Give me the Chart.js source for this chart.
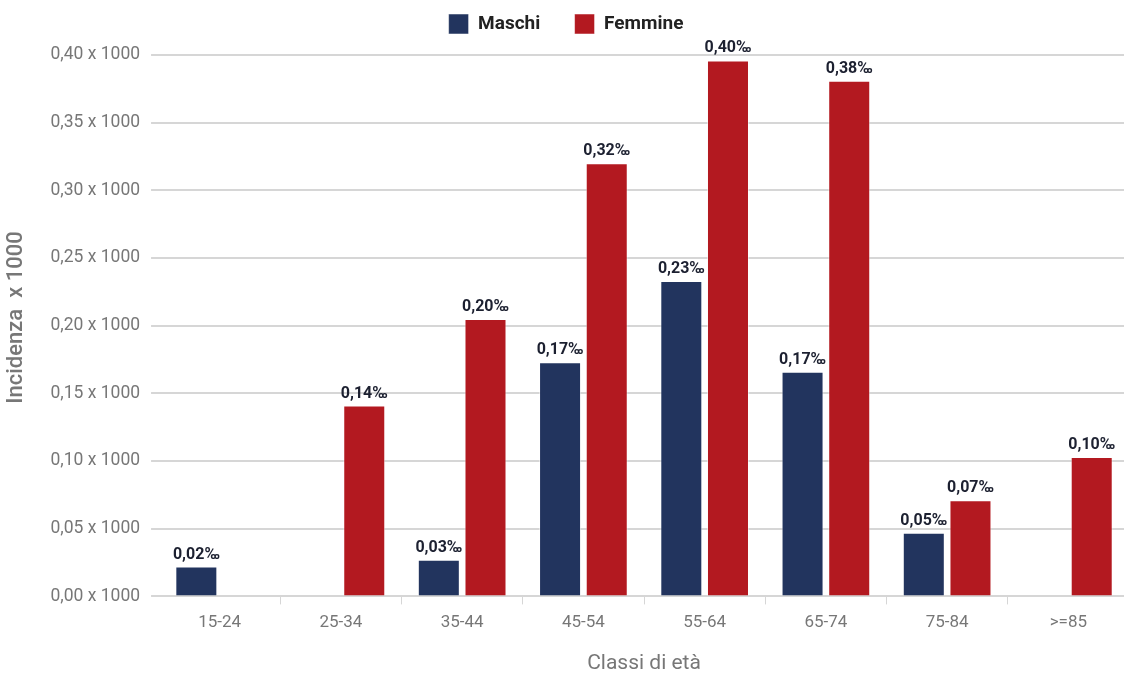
<!DOCTYPE html>
<html><head><meta charset="utf-8">
<script src="https://cdn.jsdelivr.net/npm/chart.js@4/dist/chart.umd.min.js"></script>
<style>html,body{margin:0;padding:0;background:#fff;overflow:hidden;}#wrap{width:1124px;height:674px;overflow:hidden;}</style>
</head><body><div id="wrap"><canvas id="c" width="1129" height="676"></canvas></div>
<script>
const categories = ['15-24','25-34','35-44','45-54','55-64','65-74','75-84','>=85'];
const maschi = [0.022, null, 0.027, 0.173, 0.233, 0.166, 0.047, null];
const femmine = [null, 0.141, 0.205, 0.320, 0.396, 0.381, 0.071, 0.103];
const seriesNames = ['Maschi','Femmine'];
const yTicks = [0,0.05,0.10,0.15,0.20,0.25,0.30,0.35,0.40];

const fmt = v => v.toFixed(2).replace('.', ',');

const labelPlugin = {
  id: 'barLabels',
  afterDatasetsDraw(chart) {
    const ctx = chart.ctx;
    ctx.save();
    ctx.font = 'bold 16px Roboto';
    ctx.fillStyle = '#1c2030';
    ctx.textAlign = 'center';
    ctx.textBaseline = 'bottom';
    chart.data.datasets.forEach((ds, di) => {
      const meta = chart.getDatasetMeta(di);
      meta.data.forEach((bar, i) => {
        const v = ds.data[i];
        if (v === null || v === undefined) return;
        ctx.fillText(fmt(v) + '‰', bar.x, bar.y - 4);
      });
    });
    ctx.restore();
  }
};

const legendGap = {
  id: 'legendGap',
  beforeInit(chart) {
    const lg = chart.legend;
    if (!lg) return;
    const orig = lg.fit;
    lg.fit = function () { orig.call(this); this.height += 11; };
  }
};

new Chart(document.getElementById('c'), {
  type: 'bar',
  data: {
    labels: categories,
    datasets: [
      { label: seriesNames[0], data: maschi, backgroundColor: '#22345e', borderColor: 'rgba(255,255,255,0.5)', borderWidth: 1, categoryPercentage: 0.77, barPercentage: 0.9 },
      { label: seriesNames[1], data: femmine, backgroundColor: '#b31920', borderColor: 'rgba(255,255,255,0.5)', borderWidth: 1, categoryPercentage: 0.77, barPercentage: 0.9 }
    ]
  },
  options: {
    responsive: false,
    animation: false,
    layout: { padding: { left: 3, right: 0, top: 8, bottom: 0 } },
    plugins: {
      legend: {
        position: 'top',
        labels: {
          font: { family: 'Roboto', size: 19, weight: 'bold' }, color: '#222', boxWidth: 20, boxHeight: 20, padding: 6,
          generateLabels: chart => {
            const base = Chart.defaults.plugins.legend.labels.generateLabels(chart);
            base.forEach((l, i) => { if (i === 0) l.text = l.text + '      '; });
            return base;
          }
        }
      },
      tooltip: { enabled: false }
    },
    scales: {
      x: {
        grid: { drawOnChartArea: false, drawTicks: true, tickLength: 8, color: ctx => ctx.index === 0 ? 'rgba(0,0,0,0)' : '#d6d6d6', offset: true },
        border: { display: true, color: '#d6d6d6', width: 2 },
        ticks: { font: { family: 'Roboto', size: 17 }, color: '#777', padding: 8 },
        title: { display: true, text: 'Classi di età', font: { family: 'Roboto', size: 21 }, color: '#777', padding: { top: 10, bottom: 0 } }
      },
      y: {
        min: 0, max: 0.4,
        afterBuildTicks: axis => { axis.ticks = yTicks.map(v => ({ value: v })); },
        grid: { color: '#d6d6d6', lineWidth: 2, tickLength: 8 },
        border: { display: false },
        ticks: { font: { family: 'Roboto', size: 17.5 }, color: '#777', padding: 11, callback: v => fmt(v) + ' x 1000' },
        title: { display: true, text: '   Incidenza  x 1000', font: { family: 'Roboto', size: 22, weight: '500' }, color: '#777', padding: { top: 0, bottom: 10 } }
      }
    }
  },
  plugins: [legendGap, labelPlugin]
});
</script></body></html>
